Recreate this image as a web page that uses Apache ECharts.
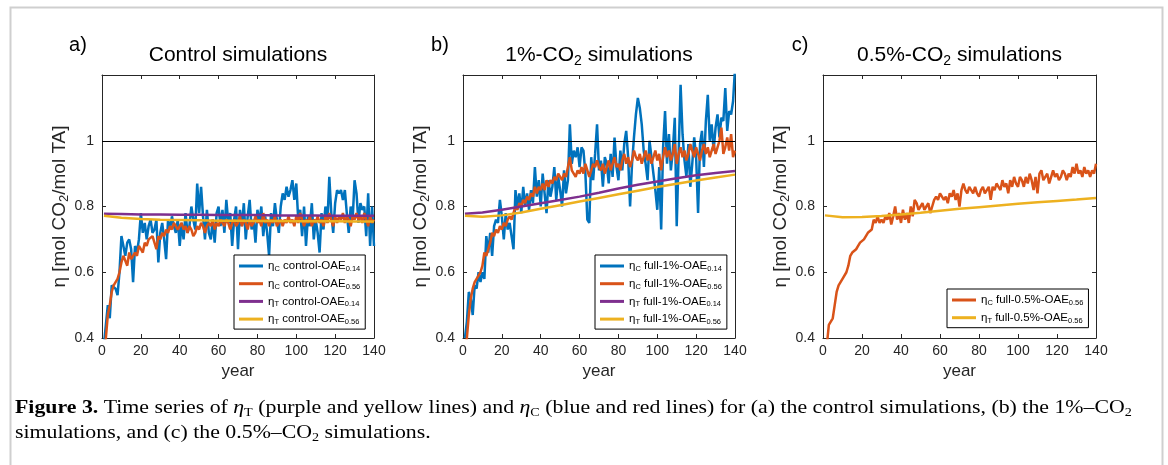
<!DOCTYPE html>
<html><head><meta charset="utf-8">
<script src="https://cdn.jsdelivr.net/npm/echarts@6/dist/echarts.min.js"></script>
<style>html,body{margin:0;padding:0;background:#fff}#c{width:1168px;height:465px}</style>
</head><body><div id="c"></div>
<script>
// ---------- data ----------
const xTicks = [0, 20, 40, 60, 80, 100, 120, 140];
const yTicks = [0.4, 0.6, 0.8, 1];
const smoothYears = [1, 10, 20, 30, 40, 50, 60, 70, 80, 90, 100, 110, 120, 130, 140];

// (a) Control simulations, yearly values, years 1..140
const aBlue = [0.38,0.44,0.50,0.46,0.56,0.56,0.55,0.53,0.60,0.71,
0.71,0.65,0.69,0.70,0.67,0.57,0.68,0.66,0.70,0.78,
0.72,0.75,0.70,0.74,0.76,0.72,0.73,0.76,0.63,0.72,
0.75,0.70,0.64,0.76,0.73,0.77,0.74,0.72,0.76,0.68,
0.75,0.70,0.78,0.72,0.74,0.80,0.76,0.73,0.87,0.78,
0.86,0.77,0.70,0.79,0.72,0.70,0.76,0.69,0.78,0.80,
0.74,0.79,0.72,0.82,0.75,0.78,0.68,0.76,0.80,0.67,
0.79,0.74,0.81,0.70,0.77,0.82,0.73,0.76,0.69,0.79,
0.75,0.80,0.71,0.77,0.72,0.65,0.78,0.74,0.81,0.76,
0.72,0.80,0.84,0.82,0.86,0.83,0.85,0.88,0.82,0.87,
0.76,0.79,0.71,0.80,0.68,0.77,0.74,0.81,0.70,0.76,
0.72,0.66,0.78,0.73,0.80,0.75,0.89,0.78,0.72,0.81,
0.85,0.84,0.85,0.82,0.85,0.78,0.72,0.80,0.76,0.88,
0.84,0.75,0.81,0.79,0.80,0.71,0.84,0.68,0.80,0.68];
const aRed = [0.33,0.40,0.47,0.50,0.54,0.56,0.57,0.58,0.60,0.63,
0.65,0.65,0.62,0.66,0.64,0.65,0.66,0.65,0.68,0.67,
0.66,0.69,0.68,0.70,0.70,0.71,0.69,0.67,0.71,0.70,
0.72,0.71,0.73,0.72,0.74,0.73,0.75,0.74,0.73,0.74,
0.75,0.73,0.74,0.72,0.74,0.73,0.71,0.72,0.74,0.73,
0.75,0.74,0.72,0.74,0.75,0.74,0.76,0.73,0.75,0.74,
0.76,0.75,0.74,0.76,0.75,0.73,0.75,0.76,0.74,0.75,
0.77,0.74,0.76,0.75,0.73,0.76,0.74,0.75,0.77,0.75,
0.76,0.74,0.78,0.75,0.76,0.74,0.76,0.75,0.77,0.74,
0.75,0.76,0.74,0.76,0.75,0.77,0.75,0.76,0.74,0.77,
0.75,0.78,0.76,0.74,0.76,0.75,0.77,0.74,0.76,0.75,
0.77,0.75,0.76,0.74,0.77,0.75,0.78,0.76,0.74,0.77,
0.75,0.77,0.76,0.78,0.75,0.77,0.76,0.74,0.77,0.76,
0.78,0.76,0.77,0.75,0.78,0.76,0.74,0.77,0.75,0.76];
const aPurple = [0.778,0.777,0.776,0.776,0.775,0.775,0.774,0.774,0.774,0.773,0.773,0.773,0.772,0.772,0.772];
const aYellow = [0.772,0.766,0.762,0.760,0.759,0.758,0.757,0.757,0.756,0.756,0.755,0.755,0.755,0.754,0.754];

// (b) 1%-CO2 simulations
const bBlue = [0.40,0.45,0.54,0.52,0.47,0.56,0.55,0.60,0.57,0.60,
0.58,0.71,0.66,0.72,0.65,0.74,0.76,0.75,0.82,0.77,
0.70,0.78,0.73,0.75,0.71,0.67,0.85,0.80,0.84,0.78,
0.86,0.80,0.84,0.79,0.85,0.81,0.92,0.83,0.88,0.80,
0.90,0.84,0.78,0.88,0.83,0.86,0.92,0.82,0.89,0.85,
0.80,0.91,0.84,0.88,1.05,0.93,0.97,0.95,0.98,0.92,
0.98,0.97,0.90,0.76,0.75,0.95,0.88,0.96,1.05,0.91,
0.94,0.86,0.95,0.93,0.87,0.96,0.89,1.01,0.92,0.88,
0.97,0.91,0.99,1.03,0.95,0.80,0.93,1.01,1.08,1.13,
1.10,1.05,0.97,0.93,0.88,1.00,0.95,0.90,0.85,0.79,
0.92,0.73,0.98,1.09,0.93,1.02,0.91,0.97,1.07,0.74,
0.96,1.17,1.02,0.94,0.89,0.99,0.86,0.93,1.01,0.95,
0.78,0.99,1.03,0.92,1.06,1.14,1.00,1.05,0.97,1.04,
1.08,1.01,1.07,1.06,1.16,1.03,1.09,1.08,1.12,1.22];
const bRed = [0.33,0.40,0.47,0.52,0.55,0.57,0.58,0.59,0.60,0.62,
0.66,0.65,0.67,0.69,0.72,0.71,0.73,0.72,0.74,0.73,
0.75,0.74,0.76,0.77,0.76,0.78,0.80,0.79,0.81,0.80,
0.82,0.81,0.83,0.82,0.84,0.83,0.86,0.84,0.86,0.85,
0.87,0.85,0.88,0.86,0.88,0.87,0.89,0.88,0.90,0.89,
0.88,0.90,0.89,0.92,0.95,0.91,0.90,0.89,0.91,0.90,
0.92,0.90,0.93,0.91,0.89,0.91,0.93,0.92,0.94,0.92,
0.91,0.93,0.90,0.92,0.94,0.91,0.93,0.95,0.92,0.93,
0.91,0.94,0.96,0.93,0.95,0.92,0.94,0.97,0.95,0.94,
0.96,0.93,0.95,0.97,0.94,0.96,0.93,0.95,0.97,0.94,
0.96,0.91,0.95,0.98,0.95,0.97,0.94,0.96,0.99,0.93,
0.96,0.98,0.95,0.97,0.94,0.96,0.99,0.97,0.95,0.98,
0.96,0.94,0.97,0.99,0.96,0.98,0.95,0.97,0.99,0.96,
0.98,1.00,1.04,0.96,0.98,1.01,0.97,1.02,0.95,0.97];
const bPurple = [0.778,0.782,0.790,0.800,0.810,0.820,0.830,0.842,0.855,0.866,0.876,0.886,0.895,0.902,0.908];
const bYellow = [0.772,0.769,0.773,0.782,0.793,0.804,0.815,0.826,0.837,0.848,0.859,0.869,0.879,0.888,0.897];

// (c) 0.5%-CO2 simulations
const cRed = [0.33,0.38,0.44,0.45,0.46,0.50,0.54,0.56,0.57,0.58,
0.58,0.60,0.62,0.65,0.66,0.66,0.67,0.68,0.69,0.69,
0.70,0.71,0.72,0.725,0.73,0.76,0.75,0.77,0.75,0.76,
0.75,0.77,0.76,0.78,0.745,0.77,0.80,0.76,0.78,0.75,
0.79,0.76,0.78,0.75,0.80,0.77,0.82,0.81,0.79,0.80,
0.81,0.79,0.80,0.81,0.78,0.80,0.82,0.83,0.82,0.84,
0.83,0.82,0.83,0.81,0.84,0.83,0.85,0.82,0.84,0.80,
0.85,0.87,0.85,0.84,0.86,0.85,0.84,0.86,0.84,0.83,
0.85,0.86,0.84,0.85,0.86,0.82,0.86,0.85,0.87,0.86,
0.85,0.88,0.86,0.87,0.84,0.88,0.86,0.89,0.87,0.86,
0.89,0.88,0.86,0.89,0.87,0.90,0.88,0.85,0.89,0.84,
0.90,0.91,0.88,0.89,0.90,0.87,0.89,0.91,0.89,0.90,
0.88,0.89,0.91,0.90,0.88,0.90,0.89,0.92,0.90,0.93,
0.90,0.91,0.89,0.92,0.90,0.91,0.89,0.91,0.90,0.93];
const cYellow = [0.773,0.767,0.768,0.771,0.776,0.781,0.787,0.793,0.798,0.803,0.808,0.813,0.817,0.821,0.826];

const panelTitles = ['Control simulations', '1%-CO{s|2} simulations', '0.5%-CO{s|2} simulations'];
const panelTags = ['a)', 'b)', 'c)'];
const names = {
  aBlue: 'ηC control-OAE0.14', aRed: 'ηC control-OAE0.56', aPurple: 'ηT control-OAE0.14', aYellow: 'ηT control-OAE0.56',
  bBlue: 'ηC full-1%-OAE0.14', bRed: 'ηC full-1%-OAE0.56', bPurple: 'ηT full-1%-OAE0.14', bYellow: 'ηT full-1%-OAE0.56',
  cRed: 'ηC full-0.5%-OAE0.56', cYellow: 'ηT full-0.5%-OAE0.56'
};

// ---------- styling / layout ----------
const COL = { blue: '#0072BD', red: '#D95319', purple: '#7E2F8E', yellow: '#EDB120' };
const SANS = 'Liberation Sans, Arial, Helvetica, sans-serif';
const SERIF = 'Liberation Serif, Times New Roman, serif';
const grids = [
  { left: 102, top: 75, width: 272, height: 263 },
  { left: 463, top: 75, width: 272, height: 263 },
  { left: 823, top: 75, width: 273, height: 263 }
];
const TXT = '#262626';

const yearly = arr => arr.map((v, i) => [i + 1, v]);
const sparse = arr => arr.map((v, i) => [smoothYears[i], v]);

const xAxes = [], yAxes = [];
grids.forEach((g, i) => {
  const tickStyle = { show: true, inside: true, length: 4, lineStyle: { color: TXT, width: 1 } };
  const base = { gridIndex: i, type: 'value', min: xTicks[0], max: xTicks[xTicks.length - 1], interval: 20,
    splitLine: { show: false }, axisLine: { show: true, onZero: false, lineStyle: { color: TXT, width: 1 } }, axisTick: tickStyle };
  xAxes.push(Object.assign({}, base, { position: 'bottom',
    axisLabel: { color: TXT, fontSize: 14, fontFamily: SANS, margin: 6 },
    name: 'year', nameLocation: 'middle', nameGap: 21,
    nameTextStyle: { color: TXT, fontSize: 17, fontFamily: SANS } }));
  xAxes.push(Object.assign({}, base, { position: 'top', axisLabel: { show: false } }));
  const ybase = { gridIndex: i, type: 'value', min: 0.4, max: 1.2, interval: 0.2,
    splitLine: { show: false }, axisLine: { show: true, onZero: false, lineStyle: { color: TXT, width: 1 } }, axisTick: tickStyle };
  yAxes.push(Object.assign({}, ybase, { position: 'left',
    axisLabel: { color: TXT, fontSize: 14, fontFamily: SANS, margin: 8,
      formatter: v => { const t = yTicks.find(k => Math.abs(k - v) < 1e-6); return t === undefined ? '' : (t === 1 ? '1' : t.toFixed(1)); } },
    name: 'η [mol CO{s|2}/mol TA]', nameLocation: 'middle', nameRotate: 90, nameGap: 26,
    nameTextStyle: { color: TXT, fontSize: 19, fontFamily: SANS, lineHeight: 22,
      rich: { s: { fontSize: 13, fontFamily: SANS, color: TXT, verticalAlign: 'bottom', lineHeight: 12 } } } }));
  yAxes.push(Object.assign({}, ybase, { position: 'right', axisLabel: { show: false } }));
});

function lineSeries(key, data, color, gi) {
  return { name: names[key], type: 'line', xAxisIndex: gi * 2, yAxisIndex: gi * 2, data: data,
    showSymbol: false, symbol: 'none', color: color, lineStyle: { color: color, width: 2.5 },
    itemStyle: { color: color }, clip: true, animation: false };
}
const oneLine = { silent: true, symbol: ['none', 'none'], label: { show: false },
  lineStyle: { color: '#000', width: 1, type: 'solid' }, data: [{ yAxis: 1 }], animation: false };

const series = [
  lineSeries('aBlue', yearly(aBlue), COL.blue, 0),
  lineSeries('aRed', yearly(aRed), COL.red, 0),
  lineSeries('aPurple', sparse(aPurple), COL.purple, 0),
  lineSeries('aYellow', sparse(aYellow), COL.yellow, 0),
  lineSeries('bBlue', yearly(bBlue), COL.blue, 1),
  lineSeries('bRed', yearly(bRed), COL.red, 1),
  lineSeries('bPurple', sparse(bPurple), COL.purple, 1),
  lineSeries('bYellow', sparse(bYellow), COL.yellow, 1),
  lineSeries('cRed', yearly(cRed), COL.red, 2),
  lineSeries('cYellow', sparse(cYellow), COL.yellow, 2)
];
series[0].markLine = oneLine;
series[4].markLine = oneLine;
series[8].markLine = oneLine;

const legRich = {
  m: { fontSize: 11.5, fontFamily: SANS, color: '#000', lineHeight: 14 },
  s: { fontSize: 7.5, fontFamily: SANS, color: '#000', lineHeight: 7, verticalAlign: 'bottom' }
};
function legFmt(name) {
  return name.replace(/^η([CT]) (.*)OAE([\d.]+)$/, '{m|η}{s|$1}{m| $2OAE}{s|$3}');
}
function legend(keys, left, top) {
  return { data: keys.map(k => names[k]), orient: 'vertical', left: left, top: top,
    backgroundColor: '#fff', borderColor: '#000', borderWidth: 1, borderRadius: 0,
    padding: [5, 5, 3, 5], itemGap: 4.7, itemWidth: 24, itemHeight: 3, icon: 'rect',
    selectedMode: false, formatter: legFmt, textStyle: { rich: legRich, fontSize: 11.5, fontFamily: SANS } };
}

const titles = [];
const centers = grids.map(g => g.left + g.width / 2);
panelTitles.forEach((t, i) => {
  titles.push({ text: t, left: centers[i], top: 42, textAlign: 'center', padding: 0,
    textStyle: { fontSize: 21, fontWeight: 'normal', color: '#000', fontFamily: SANS, lineHeight: 26,
      rich: { s: { fontSize: 14, fontFamily: SANS, color: '#000', verticalAlign: 'bottom', lineHeight: 16 } } } });
});
const tagX = [78, 440, 800];
panelTags.forEach((t, i) => {
  titles.push({ text: t, left: tagX[i], top: 35, textAlign: 'center', padding: 0,
    textStyle: { fontSize: 20, fontWeight: 'normal', color: '#000', fontFamily: SANS } });
});

const CAP = 18.5;
const capRich = {
  b: { fontFamily: SERIF, fontSize: CAP, fontWeight: 'bold', color: '#1a1a1a', lineHeight: 22 },
  r: { fontFamily: SERIF, fontSize: CAP, color: '#1a1a1a', lineHeight: 22 },
  i: { fontFamily: SERIF, fontSize: CAP, fontStyle: 'italic', color: '#1a1a1a', lineHeight: 22 },
  s: { fontFamily: SERIF, fontSize: 12, color: '#1a1a1a', lineHeight: 12, verticalAlign: 'bottom' }
};
const caption1 = '{b|Figure 3.}{r| Time series of }{i|η}{s|T}{r| (purple and yellow lines) and }{i|η}{s|C}{r| (blue and red lines) for (a) the control simulations, (b) the 1%–CO}{s|2}';
const caption2 = '{r|simulations, and (c) the 0.5%–CO}{s|2}{r| simulations.}';

const chart = echarts.init(document.getElementById('c'), null, { renderer: 'canvas' });
chart.setOption({
  animation: false,
  backgroundColor: '#fff',
  title: titles,
  grid: grids.map(g => Object.assign({ show: true, borderColor: TXT, borderWidth: 0, backgroundColor: '#fff', containLabel: false }, g)),
  xAxis: xAxes,
  yAxis: yAxes,
  legend: [
    legend(['aBlue', 'aRed', 'aPurple', 'aYellow'], 234, 255),
    legend(['bBlue', 'bRed', 'bPurple', 'bYellow'], 595, 255),
    legend(['cRed', 'cYellow'], 947, 289)
  ],
  series: series,
  graphic: [
    { type: 'rect', left: 8, top: 5, shape: { width: 1152, height: 475 }, silent: true, z: -10,
      style: { fill: 'none', stroke: '#cfcfcf', lineWidth: 2 } },
    { type: 'text', x: 15, y: 397, scaleX: 1.18, silent: true, style: { text: caption1, rich: capRich } },
    { type: 'text', x: 15, y: 422, scaleX: 1.18, silent: true, style: { text: caption2, rich: capRich } }
  ]
});
</script></body></html>
